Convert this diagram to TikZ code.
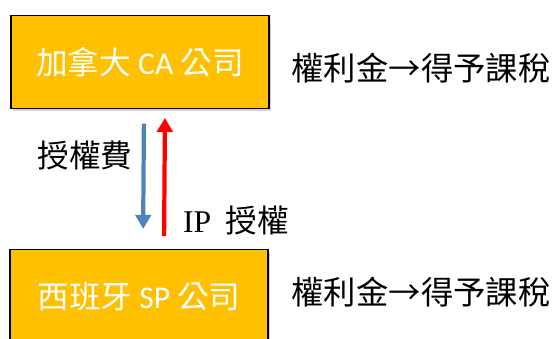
\documentclass[tikz,border=0pt]{standalone}
\usepackage{fontspec}
\usepackage{tikz}
\usetikzlibrary{arrows.meta,shadows}
\newfontfamily\cjk{Noto Sans CJK TC}
\newfontfamily\latinsans{Carlito}
\newfontfamily\latinserif{Liberation Serif}
\definecolor{boxorange}{RGB}{255,192,0}
\definecolor{feeblue}{RGB}{79,129,189}
\tikzset{
  company/.style={draw=black, line width=1.2pt, fill=boxorange, text=white,
    minimum width=6.45cm, minimum height=2.33cm, inner sep=0pt,
    drop shadow={opacity=0.35, shadow xshift=1.5pt, shadow yshift=-1.5pt},
    font=\cjk\fontsize{22.5}{26}\selectfont},
  flow/.style={line width=3pt, -{Triangle[length=10pt,width=11pt]}},
  note/.style={font=\cjk\fontsize{22.5}{26}\selectfont, inner sep=0pt},
  tax/.style={font=\cjk\fontsize{23}{27}\selectfont, inner sep=0pt}
}
\begin{document}
\begin{tikzpicture}[x=0.025cm,y=-0.025cm]
\useasboundingbox (0,0) rectangle (552,338);
\node[company] (ca) at (140,62) {加拿大 {\latinsans CA} 公司};
\node[company] (sp) at (139,296) {西班牙 {\latinsans SP} 公司};
\draw[flow, feeblue, shorten <=10pt, shorten >=14pt]
  ([xshift=0.1cm]ca.south) -- ([xshift=0.1cm]sp.north);
\draw[flow, red, shorten <=9pt, shorten >=6pt]
  ([xshift=0.625cm]sp.north) -- ([xshift=0.625cm]ca.south);
\node[note] (fee) at (85,155) {授權費};
\node[note] (ip) at (236,220) {{\latinserif IP}\ \ 授權};
\node[tax] (taxca) at (421,68) {權利金→得予課稅};
\node[tax] (taxsp) at (421,292) {權利金→得予課稅};
\end{tikzpicture}
\end{document}
